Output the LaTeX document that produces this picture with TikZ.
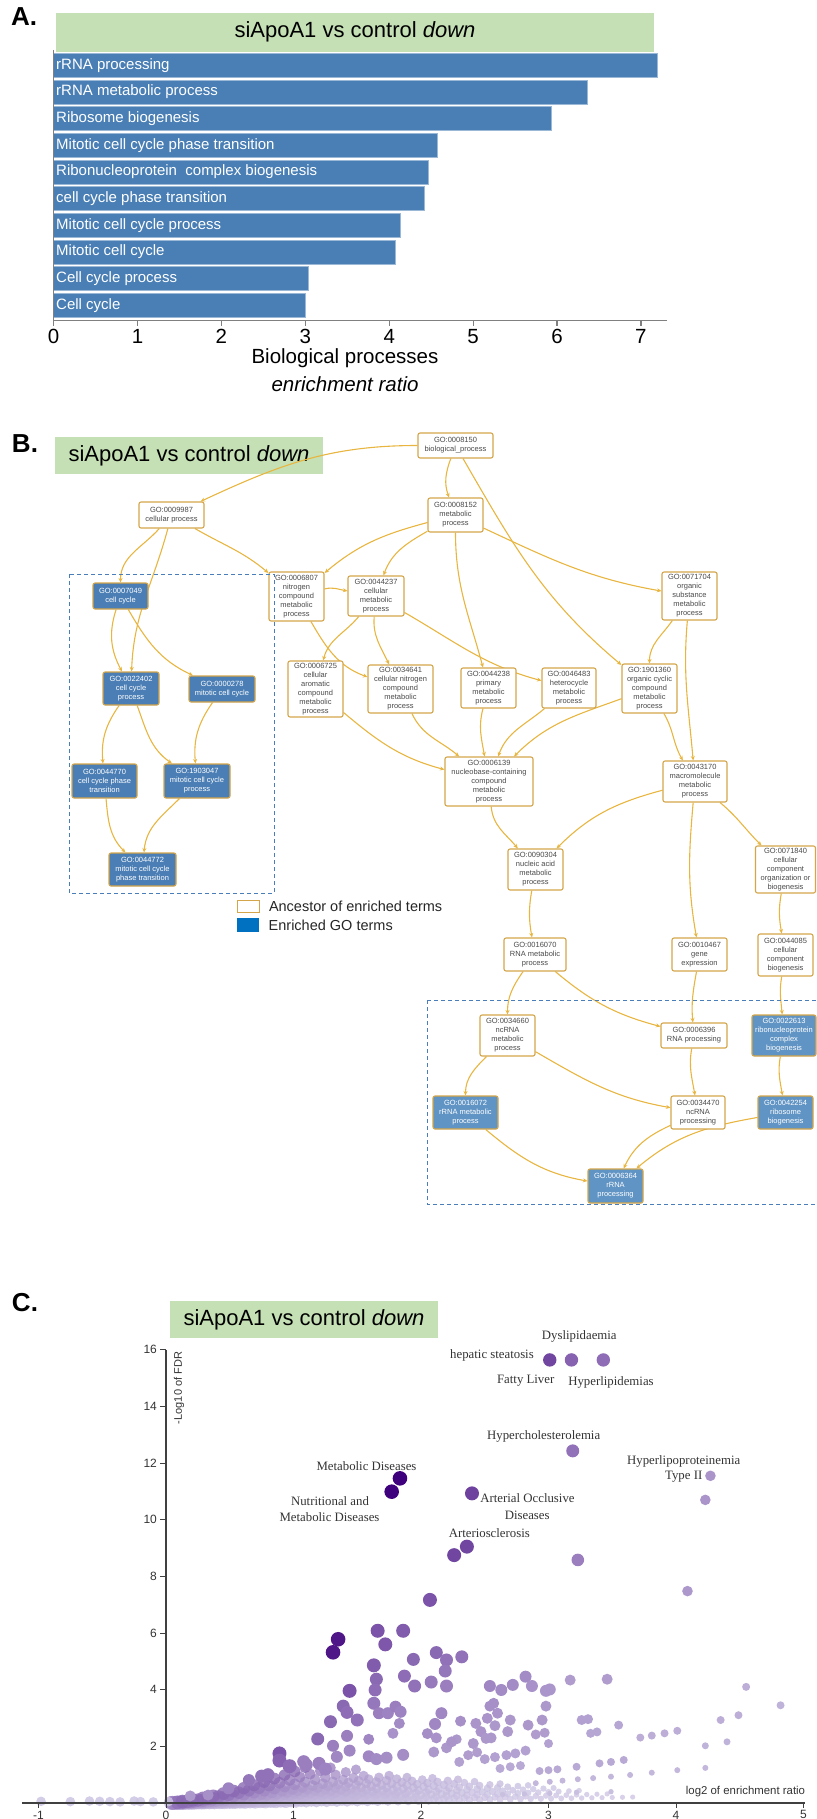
\documentclass[tikz,border=0pt]{standalone}
\usepackage{fontspec}
\setmainfont{Liberation Sans}
\newfontfamily\serifx{Liberation Serif}
\usetikzlibrary{positioning,arrows.meta}
\pgfdeclarelayer{back}
\pgfdeclarelayer{bg}
\pgfsetlayers{back,bg,main}

\definecolor{titlegreen}{HTML}{C5E0B4}
\definecolor{barblue}{HTML}{4A7FB5}
\definecolor{axisgray}{HTML}{808080}
\definecolor{boxgold}{HTML}{D4A54A}
\definecolor{edgegold}{HTML}{E8B640}
\definecolor{gotext}{HTML}{4A4A4A}
\definecolor{enrblue}{HTML}{4A7EB5}
\definecolor{enrlight}{HTML}{6094C4}
\definecolor{dashblue}{HTML}{4A7EBB}
\definecolor{legblue}{HTML}{0070C0}
\definecolor{pdark}{HTML}{3F007D}
\definecolor{plight}{HTML}{DCDAEE}

\tikzset{
  titlebox/.style={fill=titlegreen, inner sep=0pt, font=\fontsize{22}{26}\selectfont},
  panellabel/.style={font=\bfseries\fontsize{26}{30}\selectfont, inner sep=0pt},
  barlabel/.style={text=white, font=\fontsize{15}{18}\selectfont, inner sep=1pt},
  axlabel/.style={font=\fontsize{20.5}{23}\selectfont, inner sep=0pt},
  ancnode/.style={rectangle, rounded corners=2pt, draw=boxgold, line width=1.1pt, fill=white, text=gotext, align=center, inner sep=1pt, font=\fontsize{7.5}{9}\selectfont},
  enrnode/.style={ancnode, fill=enrblue, text=white},
  enrnodeb/.style={enrnode, fill=enrlight},
  goedge/.style={draw=edgegold, line width=1.1pt, -{Stealth[length=4.5pt,width=4pt]}},
  dashbox/.style={draw=dashblue, line width=1pt, dash pattern=on 4pt off 3pt},
  legtext/.style={font=\fontsize{14.5}{17}\selectfont, text=black!85, inner sep=0pt, anchor=west},
  dlabel/.style={font=\serifx\fontsize{12.8}{14}\selectfont, text=black!80, inner sep=0pt},
  ticklab/.style={font=\fontsize{12}{14}\selectfont, text=black!80, inner sep=0pt}
}

\begin{document}
\begin{tikzpicture}[x=1pt, y=1pt]
\useasboundingbox (0,0) rectangle (816,-1819);

%%%%%%%%%%%%%%%%%%%%%%%%%%%%%%%%%%%%%%%%%%%%%%%%%%%%%%%%%%%%%%%%%%%
%%% PANEL A: bar chart
\node[panellabel] (labA) at (24,-17) {A.};
\node[titlebox, minimum width=598pt, minimum height=39pt] (titleA) at (355,-32.2) {siApoA1 vs control \textit{down}};

\foreach \lab/\val [count=\i from 0] in {rRNA processing/7.2, rRNA metabolic process/6.36, Ribosome biogenesis/5.93, Mitotic cell cycle phase transition/4.57, Ribonucleoprotein\ \ complex biogenesis/4.47, cell cycle phase transition/4.42, Mitotic cell cycle process/4.13, Mitotic cell cycle/4.07, Cell cycle process/3.04, Cell cycle/3.0}
{
  \filldraw[fill=barblue, draw=barblue!55!white, line width=0.6pt] (53.6,{-53.3-26.67*\i}) rectangle ({53.6+83.9*\val},{-77.3-26.67*\i});
  \node[barlabel, anchor=west] (barA\i) at (55,{-65.3-26.67*\i}) {\lab};
}

%axes
\draw[axisgray, line width=1.5pt] (53.6,-50) -- (53.6,-320.7) -- (667,-320.7);
\foreach \t in {0,...,7}
{
  \draw[axisgray, line width=1.2pt] ({53.6+83.9*\t},-320.7) -- ++(0,-5);
  \node[axlabel] (tickA\t) at ({53.6+83.9*\t},-336.5) {\t};
}
\node[axlabel] (xlabA) at (345,-358) {Biological processes};
\node[axlabel] (xlabA2) at (345,-384) {\textit{enrichment ratio}};

%%%%%%%%%%%%%%%%%%%%%%%%%%%%%%%%%%%%%%%%%%%%%%%%%%%%%%%%%%%%%%%%%%%
%%% PANEL B: GO graph
\node[panellabel] (labB) at (25,-444) {B.};
\begin{pgfonlayer}{back}
\node[titlebox, minimum width=268pt, minimum height=37pt] (titleB) at (189,-455.5) {siApoA1 vs control \textit{down}};
\end{pgfonlayer}

%%% top of the tree
\node[ancnode, minimum width=75pt, minimum height=25pt] (g0008150) at (455.5,-445.5) {GO:0008150\\biological\_process};
\node[ancnode, minimum width=65pt, minimum height=26pt] (g0009987) at (171.5,-515) {GO:0009987\\cellular process};
\node[ancnode, minimum width=55pt, minimum height=34pt] (g0008152) at (455.5,-515) {GO:0008152\\metabolic\\process};

%%% metabolic branch
\node[ancnode, minimum width=55pt, minimum height=49pt] (g0006807) at (296.5,-596.5) {GO:0006807\\nitrogen\\compound\\metabolic\\process};
\node[ancnode, minimum width=56pt, minimum height=40pt] (g0044237) at (376,-596) {GO:0044237\\cellular\\metabolic\\process};
\node[ancnode, minimum width=55pt, minimum height=48pt] (g0071704) at (689.5,-596) {GO:0071704\\organic\\substance\\metabolic\\process};
\node[ancnode, minimum width=55pt, minimum height=56pt] (g0006725) at (315.5,-689) {GO:0006725\\cellular\\aromatic\\compound\\metabolic\\process};
\node[ancnode, minimum width=65pt, minimum height=48pt] (g0034641) at (400.5,-689) {GO:0034641\\cellular nitrogen\\compound\\metabolic\\process};
\node[ancnode, minimum width=55pt, minimum height=40pt] (g0044238) at (488.5,-688) {GO:0044238\\primary\\metabolic\\process};
\node[ancnode, minimum width=54pt, minimum height=40pt] (g0046483) at (569,-688) {GO:0046483\\heterocycle\\metabolic\\process};
\node[ancnode, minimum width=55pt, minimum height=49pt] (g1901360) at (649.5,-688.5) {GO:1901360\\organic cyclic\\compound\\metabolic\\process};
\node[ancnode, minimum width=88pt, minimum height=49pt] (g0006139) at (489,-781.5) {GO:0006139\\nucleobase-containing\\compound\\metabolic\\process};
\node[ancnode, minimum width=64pt, minimum height=41pt] (g0043170) at (695,-781.5) {GO:0043170\\macromolecule\\metabolic\\process};
\node[ancnode, minimum width=55pt, minimum height=41pt] (g0090304) at (535.5,-869.5) {GO:0090304\\nucleic acid\\metabolic\\process};
\node[ancnode, minimum width=60pt, minimum height=47pt] (g0071840) at (785.5,-869.5) {GO:0071840\\cellular\\component\\organization or\\biogenesis};
\node[ancnode, minimum width=62pt, minimum height=33pt] (g0016070) at (535,-954.5) {GO:0016070\\RNA metabolic\\process};
\node[ancnode, minimum width=55pt, minimum height=33pt] (g0010467) at (699.5,-954.5) {GO:0010467\\gene\\expression};
\node[ancnode, minimum width=55pt, minimum height=42pt] (g0044085) at (785.5,-955) {GO:0044085\\cellular\\component\\biogenesis};

%%% RNA cluster
\node[ancnode, minimum width=55pt, minimum height=41pt] (g0034660) at (507.5,-1035.5) {GO:0034660\\ncRNA\\metabolic\\process};
\node[ancnode, minimum width=66pt, minimum height=25pt] (g0006396) at (694,-1035.5) {GO:0006396\\RNA processing};
\node[enrnodeb, minimum width=64pt, minimum height=41pt] (g0022613) at (784,-1035.5) {GO:0022613\\ribonucleoprotein\\complex\\biogenesis};
\node[enrnodeb, minimum width=65pt, minimum height=33pt] (g0016072) at (465.5,-1112.5) {GO:0016072\\rRNA metabolic\\process};
\node[ancnode, minimum width=54pt, minimum height=33pt] (g0034470) at (698,-1112.5) {GO:0034470\\ncRNA\\processing};
\node[enrnodeb, minimum width=55pt, minimum height=33pt] (g0042254) at (785.5,-1112.5) {GO:0042254\\ribosome\\biogenesis};
\node[enrnodeb, minimum width=55pt, minimum height=34pt] (g0006364) at (615.5,-1186) {GO:0006364\\rRNA\\processing};

%%% cell cycle cluster
\node[enrnode, minimum width=55pt, minimum height=26pt] (g0007049) at (120.5,-596) {GO:0007049\\cell cycle};
\node[enrnode, minimum width=56pt, minimum height=33pt] (g0022402) at (131,-688.5) {GO:0022402\\cell cycle\\process};
\node[enrnode, minimum width=66pt, minimum height=26pt] (g0000278) at (222,-689) {GO:0000278\\mitotic cell cycle};
\node[enrnode, minimum width=65pt, minimum height=34pt] (g0044770) at (104.5,-781) {GO:0044770\\cell cycle phase\\transition};
\node[enrnode, minimum width=66pt, minimum height=34pt] (g1903047) at (197,-781) {GO:1903047\\mitotic cell cycle\\process};
\node[enrnode, minimum width=67pt, minimum height=33pt] (g0044772) at (142.5,-869.5) {GO:0044772\\mitotic cell cycle\\phase transition};

%%% dashed frames
\draw[dashbox] (69,-574) rectangle (274,-893);
\draw[dashbox] (427,-1000) rectangle (820,-1204);

%%% legend
\node[rectangle, draw=boxgold, line width=1pt, fill=white, minimum width=22pt, minimum height=12.3pt, inner sep=0pt] (legAnc) at (248.3,-906.2) {};
\node[legtext, right=9pt of legAnc] (legAncT) {Ancestor of enriched terms};
\node[rectangle, fill=legblue, minimum width=22pt, minimum height=13.3pt, inner sep=0pt] (legEnr) at (248.3,-925) {};
\node[legtext, right=9pt of legEnr] (legEnrT) {Enriched GO terms};

%%% connections, arrows
\begin{pgfonlayer}{bg}
\draw[goedge] (g0008150) to[out=180, in=25] (g0009987);
\draw[goedge] (g0009987) to[out=228, in=90] (g0007049);
\draw[goedge] (g0009987) to[out=255, in=88] (g0022402);
\draw[goedge] (g0007049) to[out=252, in=118] (g0022402);
\draw[goedge] (g0007049) to[out=300, in=155] (g0000278);
\draw[goedge] (g0022402) to[out=235, in=95] (g0044770);
\draw[goedge] (g0022402) to[out=290, in=145] (g1903047);
\draw[goedge] (g0000278) to[out=235, in=95] (g1903047);
\draw[goedge] (g0044770) to[out=275, in=135] (g0044772);
\draw[goedge] (g1903047) to[out=225, in=85] (g0044772);
\draw[goedge] (g0009987) to[out=330, in=140] (g0006807);
\draw[goedge] (g0008152) to[out=195, in=40] (g0006807);
\draw[goedge] (g0008152) to[out=210, in=70] (g0044237);
\draw[goedge] (g0006807) to[out=15, in=170] (g0044237);
\draw[goedge] (g0044237) to[out=230, in=75] (g0006725);
\draw[goedge] (g0044237) to[out=265, in=115] (g0034641);
\draw[goedge] (g0006807) to[out=300, in=160] (g0034641);
\draw[goedge] (g0044237) to[out=330, in=165] (g0046483);
\draw[goedge] (g0006725) to[out=320, in=165] (g0006139);
\draw[goedge] (g0034641) to[out=295, in=140] (g0006139);
\draw[goedge] (g0044238) to[out=255, in=100] (g0006139);
\draw[goedge] (g0046483) to[out=220, in=70] (g0006139);
\draw[goedge] (g1901360) to[out=200, in=45] (g0006139);
\draw[goedge] (g0008150) to[out=250, in=110] (g0008152);
\draw[goedge] (g0008150) to[out=300, in=140] (g1901360);
\draw[goedge] (g0008152) to[out=270, in=105] (g0044238);
\draw[goedge] (g0008152) to[out=335, in=170] (g0071704);
\draw[goedge] (g0071704) to[out=235, in=90] (g1901360);
\draw[goedge] (g0071704) to[out=265, in=95] (g0043170);
\draw[goedge] (g1901360) to[out=300, in=120] (g0043170);
\draw[goedge] (g0006139) to[out=275, in=130] (g0090304);
\draw[goedge] (g0043170) to[out=195, in=45] (g0090304);
\draw[goedge] (g0043170) to[out=265, in=100] (g0010467);
\draw[goedge] (g0043170) to[out=320, in=135] (g0071840);
\draw[goedge] (g0090304) to[out=260, in=100] (g0016070);
\draw[goedge] (g0071840) to[out=260, in=100] (g0044085);
\draw[goedge] (g0016070) to[out=235, in=90] (g0034660);
\draw[goedge] (g0016070) to[out=320, in=165] (g0006396);
\draw[goedge] (g0010467) to[out=260, in=95] (g0006396);
\draw[goedge] (g0044085) to[out=260, in=95] (g0022613);
\draw[goedge] (g0034660) to[out=225, in=90] (g0016072);
\draw[goedge] (g0034660) to[out=330, in=170] (g0034470);
\draw[goedge] (g0006396) to[out=260, in=100] (g0034470);
\draw[goedge] (g0022613) to[out=260, in=100] (g0042254);
\draw[goedge] (g0016072) to[out=320, in=170] (g0006364);
\draw[goedge] (g0034470) to[out=205, in=65] (g0006364);
\draw[goedge] (g0042254) to[out=190, in=40] (g0006364);
\end{pgfonlayer}

%%%%%%%%%%%%%%%%%%%%%%%%%%%%%%%%%%%%%%%%%%%%%%%%%%%%%%%%%%%%%%%%%%%
%%% PANEL C: volcano plot
\node[panellabel] (labC) at (25,-1302.5) {C.};
\node[titlebox, minimum width=268pt, minimum height=37pt] (titleC) at (304,-1319.5) {siApoA1 vs control \textit{down}};

\begin{scope}[shift={(166,-1803)}, x=127.5pt, y=28.33pt]
% light cloud of terms
\foreach \kk/\xm/\xs in {0.03/3.7/0.06, 0.05/3.5/0.10, 0.075/3.3/0.04, 0.1/3.1/0.08, 0.13/2.9/0.12, 0.16/2.7/0.06, 0.2/2.5/0.10, 0.24/2.3/0.05, 0.29/2.1/0.09, 0.35/1.9/0.13, 0.42/1.8/0.07, 0.5/1.6/0.11, 0.65/1.5/0.05, 0.85/1.3/0.09, 1.1/1.1/0.13}
{
  \foreach \j in {0,...,48}
  {
    \pgfmathsetmacro\xx{\xs+0.08*\j}
    \ifdim\xx pt<\xm pt
      \pgfmathsetmacro\yy{\kk*\xx^1.5}
      \pgfmathsetmacro\rr{max(2.6,7-1.3*\xx)}
      \pgfmathtruncatemacro\cc{max(9,min(52,(12+40*\kk)*(1.1-0.15*\xx)))}
      \fill[pdark!\cc!plight, fill opacity=0.8] (\xx,\yy) circle (\rr pt);
    \fi
  }
}
% terms along the axis
\foreach \px/\py in {-0.98/0.06, -0.75/0.05, -0.6/0.07, -0.52/0.06, -0.44/0.05, -0.36/0.04, -0.25/0.07, -0.2/0.05, -0.1/0.04, 0.02/0.05}
  \fill[pdark!10!plight, fill opacity=0.85] (\px,\py) circle (4.8pt);
% single terms
\foreach \px/\py/\pr/\pc in {
  2.90/0.70/3/16, 3.01/0.75/3/16, 3.11/0.79/3/16, 3.23/0.84/3/16, 3.35/0.88/3/16, 3.49/0.93/3/16, 3.64/0.99/3/16, 3.81/1.07/3/16, 4.01/1.16/3/16, 4.23/1.24/3/16,
  2.64/0.30/2.7/12, 2.81/0.32/2.7/12, 3.01/0.34/2.7/12, 3.22/0.38/2.7/12, 3.49/0.40/2.7/12,
  2.93/1.13/4/22, 3.00/1.16/4/22, 3.07/1.19/4/22, 3.22/1.28/4/22, 3.40/1.40/4/22, 3.49/1.45/4/22, 3.59/1.52/4/22,
  2.05/2.45/5.5/35, 2.12/2.30/5.5/33, 2.20/1.95/5.5/30, 2.28/2.25/5/30, 2.10/1.80/5.5/30, 2.30/1.45/5/26, 2.50/1.55/5/26, 2.58/1.62/5/26, 2.62/1.22/4.5/22, 2.70/1.28/4.5/22, 2.78/1.32/4.5/22,
  0.19/0.25/5.5/30, 0.33/0.28/5.5/34, 0.49/0.52/6/40, 0.65/0.81/6/46, 0.75/0.95/6.5/48, 0.80/1.00/6.5/48, 1.10/1.35/6.5/42, 1.20/1.40/6.5/42, 1.25/1.20/6.5/40,
  1.59/1.65/6/38, 1.65/1.55/6/36, 1.73/1.60/6/35, 1.86/1.70/6/35,
  4.55/4.10/4/20, 4.82/3.45/4/18, 4.35/2.93/4/20, 4.49/3.10/4/20, 4.23/2.02/3.5/18, 4.40/2.16/3.5/18,
  3.72/2.31/4/20, 3.81/2.38/4/20, 3.91/2.46/4/20, 4.01/2.55/4/20,
  3.26/2.93/5/26, 3.31/2.96/5/26, 3.55/2.75/4.5/24, 3.33/2.46/4.5/24, 3.38/2.51/4.5/24,
  2.44/1.79/5/28, 2.37/1.69/5/28, 2.67/1.69/5/26, 2.74/1.75/5/26, 2.82/1.85/5/26,
  2.54/3.42/5.5/34, 2.57/3.52/5.5/34, 2.60/3.17/5.5/32, 2.52/2.99/5.5/32, 2.70/2.93/5.5/30, 2.58/2.73/5.5/30, 2.84/2.75/5.5/30, 2.95/2.93/5.5/30, 2.98/3.42/5.5/30, 2.97/2.48/5/28, 2.90/2.42/5/28, 3.00/2.10/4.5/26,
  2.31/2.89/5.5/34, 2.43/2.81/5.5/32, 2.47/2.52/5.5/32, 2.51/2.28/5.5/30, 2.55/2.30/5.5/30, 2.68/2.52/5.5/30, 2.41/2.10/5.5/30, 2.24/2.16/5.5/32, 2.11/2.79/6/38, 2.16/3.17/6/38,
  2.54/4.13/6/38, 2.63/3.99/6/36, 2.72/4.17/6/36, 2.82/4.46/6/36, 2.87/4.13/6/33, 2.98/3.96/6/31, 3.01/4.01/6/31, 3.17/4.34/5.5/28, 3.46/4.37/5.5/28,
  2.12/5.31/6.5/52, 2.20/5.05/6.5/48, 2.32/5.16/6.5/48, 2.19/4.66/6.5/46, 2.08/4.27/6.5/44, 2.20/4.13/6.5/42,
  1.19/2.26/6.5/52, 1.42/2.37/6/42, 1.59/2.25/5.5/38, 1.31/2.02/6/42, 1.44/1.85/6/38, 0.89/1.75/7/62, 0.89/1.50/7/55, 0.97/1.30/7/50, 1.08/1.46/6.5/42, 1.34/1.63/6/38,
  1.63/3.52/6.5/45, 1.67/3.17/6/42, 1.74/3.17/6/40, 1.80/3.40/6/42, 1.84/3.22/6/40, 1.83/2.81/5.5/36, 1.78/2.46/5.5/33,
  1.94/5.07/6.5/52, 1.63/4.86/7/58, 1.87/4.48/6.5/50, 1.65/4.37/6.5/52, 1.95/4.13/6.5/48, 1.64/3.99/6.5/50, 1.44/3.96/7/62, 1.39/3.42/6.5/52, 1.42/3.20/6.5/50, 1.50/2.93/6.5/48, 1.29/2.87/6.5/52,
  1.66/6.08/7/62, 1.86/6.08/7/58, 1.72/5.60/7/60, 2.07/7.17/7/62, 4.09/7.48/5.3/30, 3.23/8.58/6.3/42,
  2.26/8.75/7/68, 2.36/9.05/7/68, 2.40/10.93/7/70, 4.27/11.55/5.3/32, 4.23/10.70/5.3/32, 3.19/12.43/6.5/48,
  3.01/15.64/6.7/68, 3.18/15.64/6.7/55, 3.43/15.64/6.7/50,
  1.35/5.78/7.3/90, 1.31/5.32/7.3/90, 1.835/11.46/7.3/100, 1.77/10.99/7.3/100}
  \fill[pdark!\pc!plight] (\px,\py) circle (\pr pt);

% axes
\draw[black!75, line width=1.3pt] (0,0) -- (0,16);
\draw[black!75, line width=1.3pt] (-1.13,0) -- (5.01,0);
\foreach \t in {2,4,...,16}
{
  \draw[black!75, line width=1pt] (0,\t) -- ++(-6pt,0);
  \node[ticklab, anchor=east] (tickCy\t) at (-0.07,\t) {\t};
}
\foreach \t in {-1,0,...,5}
{
  \draw[black!75, line width=1pt] (\t,0) -- ++(0,-5pt);
  \node[ticklab] (tickCx\t) at (\t,-0.42) {\t};
}
\end{scope}

\node[ticklab, rotate=90, font=\fontsize{11}{13}\selectfont] (ylabC) at (179,-1388) {-Log10 of FDR};
\node[ticklab, font=\fontsize{11.4}{13}\selectfont] (xlabC) at (745.5,-1792) {log2 of enrichment ratio};

%%% term labels
\node[dlabel] (lDys) at (579.3,-1336.3) {Dyslipidaemia};
\node[dlabel] (lHep) at (492,-1355.7) {hepatic steatosis};
\node[dlabel] (lFat) at (525.7,-1380.5) {Fatty Liver};
\node[dlabel] (lHyl) at (611,-1382.8) {Hyperlipidemias};
\node[dlabel] (lHyc) at (543.7,-1436.2) {Hypercholesterolemia};
\node[dlabel] (lHlp) at (683.7,-1461.3) {Hyperlipoproteinemia};
\node[dlabel] (lTyp) at (683.7,-1477) {Type II};
\node[dlabel] (lMet) at (366.5,-1466) {Metabolic Diseases};
\node[dlabel] (lNut) at (330,-1501) {Nutritional and};
\node[dlabel] (lNut2) at (329.5,-1517) {Metabolic Diseases};
\node[dlabel] (lArt) at (527.5,-1498.3) {Arterial Occlusive};
\node[dlabel] (lArt2) at (527.2,-1515.3) {Diseases};
\node[dlabel] (lScl) at (489.3,-1533.5) {Arteriosclerosis};

\end{tikzpicture}
\end{document}
